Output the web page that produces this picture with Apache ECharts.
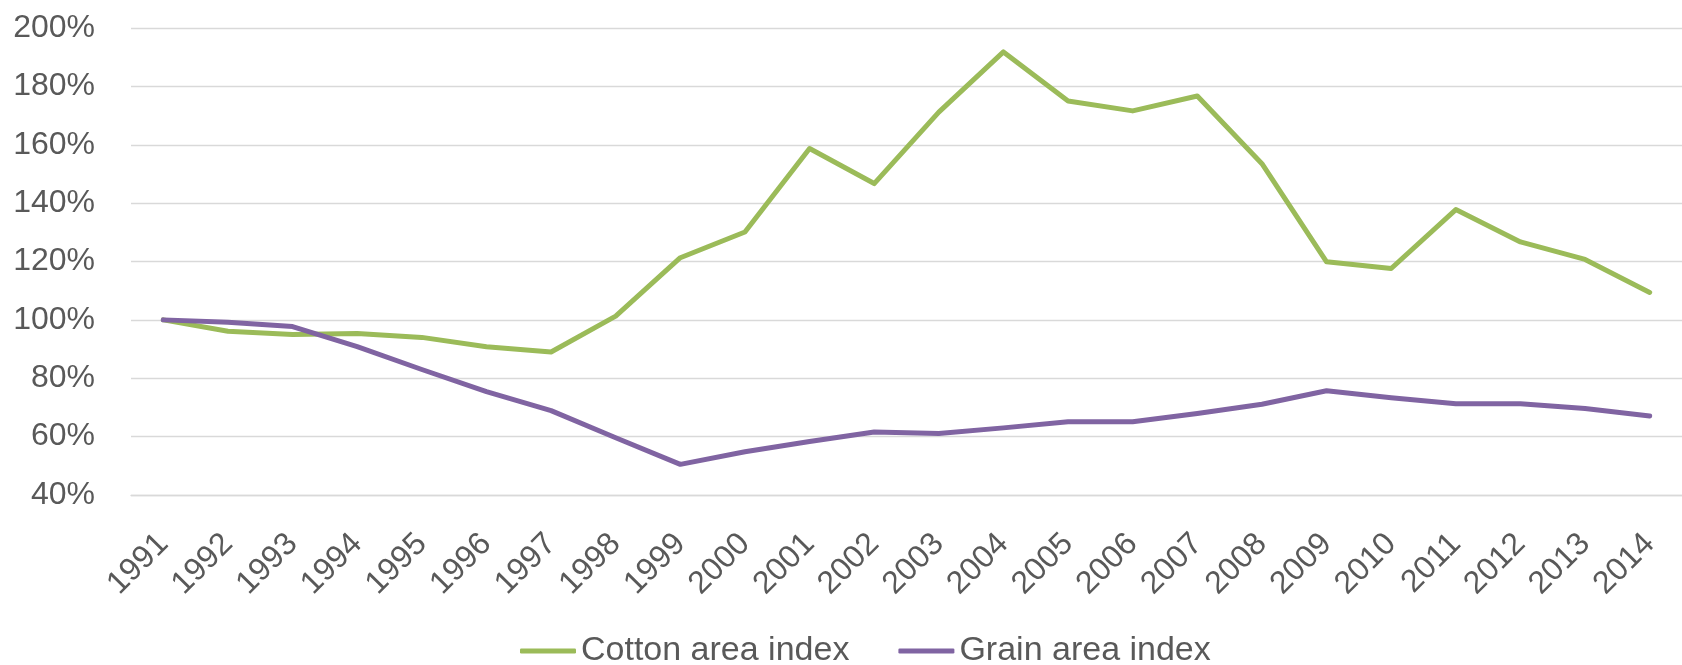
<!DOCTYPE html>
<html>
<head>
<meta charset="utf-8">
<script src="https://cdn.jsdelivr.net/npm/echarts@6/dist/echarts.min.js"></script>
<style>
html,body{margin:0;padding:0;background:#fff;}
#chart{width:1682px;height:665px;}
</style>
</head>
<body>
<div id="chart"></div>
<script>
const years = ['1991','1992','1993','1994','1995','1996','1997','1998','1999','2000','2001','2002','2003','2004','2005','2006','2007','2008','2009','2010','2011','2012','2013','2014'];
const cottonIndex = [100, 96.1, 95.0, 95.3, 94.0, 90.8, 89.0, 101.3, 121.3, 130.1, 158.7, 146.7, 171.2, 191.8, 175.0, 171.6, 176.7, 153.5, 119.9, 117.6, 137.8, 126.7, 120.7, 109.4];
const grainIndex = [100, 99.2, 97.7, 90.8, 83.0, 75.4, 68.9, 59.6, 50.5, 54.8, 58.3, 61.6, 61.1, 63.0, 65.1, 65.1, 67.9, 71.1, 75.7, 73.3, 71.3, 71.3, 69.6, 67.1];
const seriesNames = ['Cotton area index', 'Grain area index'];
const yTicks = {min: 40, max: 200, interval: 20};

const chart = echarts.init(document.getElementById('chart'), null, {renderer: 'canvas'});
const font = 'Liberation Sans, Arial, sans-serif';
chart.setOption({
  backgroundColor: '#ffffff',
  animation: false,
  grid: {left: 131, top: 28, width: 1563, bottom: 170, containLabel: false},
  legend: {
    left: 515, top: 629,
    itemWidth: 56, itemHeight: 5, itemGap: 49,
    icon: 'roundRect',
    textStyle: {fontFamily: font, fontSize: 34, color: '#595959', padding: [0,0,0,0]},
    data: seriesNames
  },
  xAxis: {
    type: 'category',
    data: years,
    boundaryGap: true,
    axisLine: {show: true, lineStyle: {color: '#d9d9d9', width: 1.3}},
    axisTick: {show: false},
    axisLabel: {rotate: 45, margin: 44, padding: [12,0,0,0], fontFamily: font, fontSize: 32, color: '#595959', interval: 0}
  },
  yAxis: {
    type: 'value',
    min: yTicks.min, max: yTicks.max, interval: yTicks.interval,
    axisLine: {show: false},
    axisTick: {show: false},
    axisLabel: {formatter: '{value}%', margin: 36, fontFamily: font, fontSize: 32, color: '#595959'},
    splitLine: {lineStyle: {color: '#d9d9d9', width: 1.3}}
  },
  series: [
    {name: seriesNames[0], type: 'line', data: cottonIndex, showSymbol: false, symbol: 'none',
     color: '#9BBB59', lineStyle: {width: 5, color: '#9BBB59', cap: 'round', join: 'round'}},
    {name: seriesNames[1], type: 'line', data: grainIndex, showSymbol: false, symbol: 'none',
     color: '#8064A2', lineStyle: {width: 5, color: '#8064A2', cap: 'round', join: 'round'}}
  ]
});
</script>
</body>
</html>
